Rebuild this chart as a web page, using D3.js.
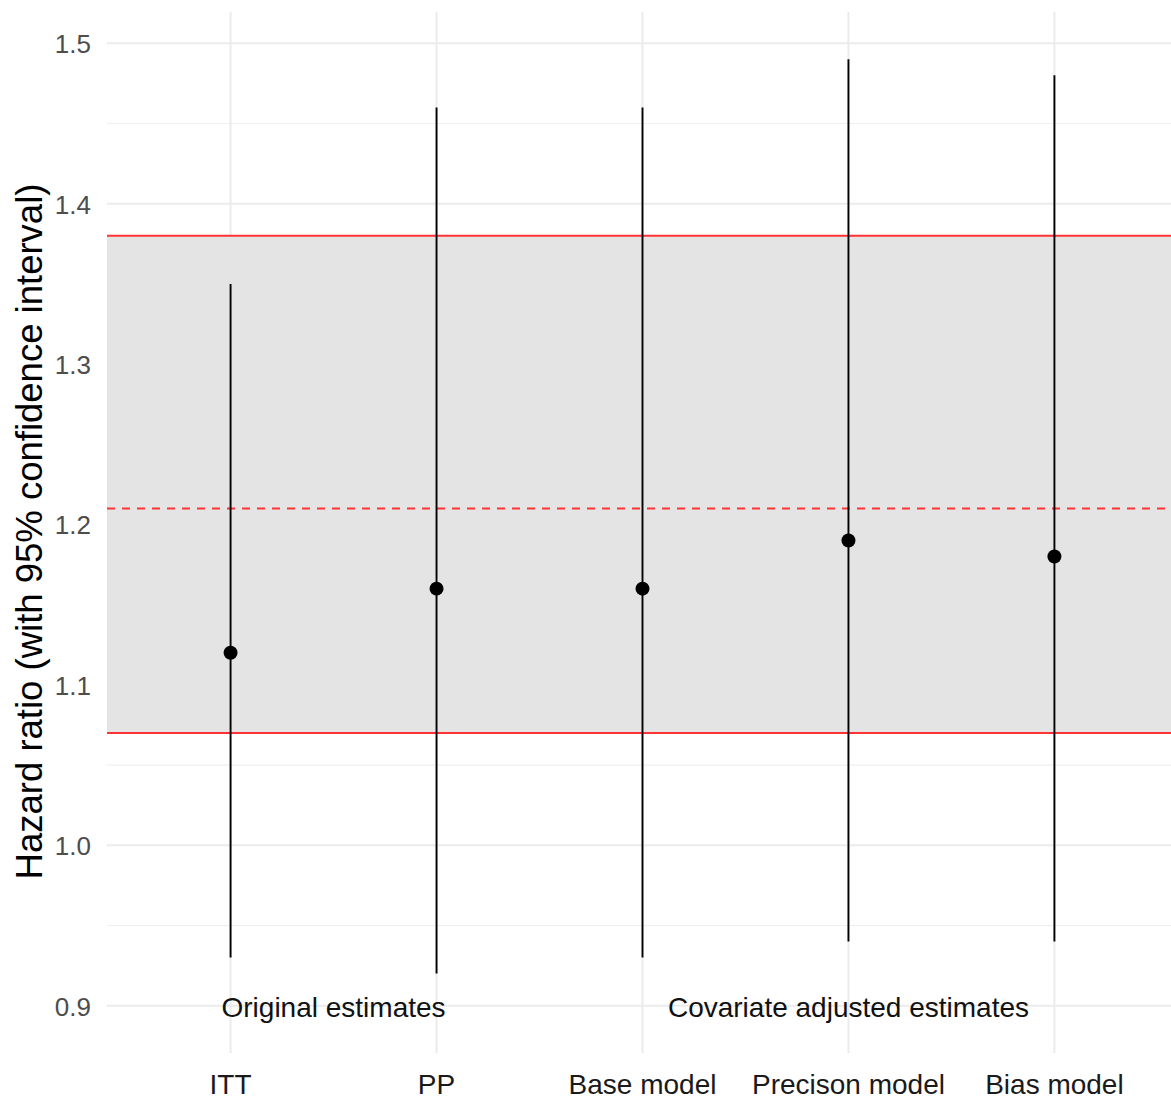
<!DOCTYPE html>
<html>
<head>
<meta charset="utf-8">
<script src="https://cdn.jsdelivr.net/npm/d3@7"></script>
<style>
  html, body { margin: 0; padding: 0; background: #fff; }
  svg { display: block; font-family: "Liberation Sans", Arial, sans-serif; }
</style>
</head>
<body>
<svg id="chart" width="1171" height="1099"></svg>
<script>
// ---- data ----
const categories = ["ITT", "PP", "Base model", "Precison model", "Bias model"];
const estimates  = [1.12, 1.16, 1.16, 1.19, 1.18];
const lowerCI    = [0.93, 0.92, 0.93, 0.94, 0.94];
const upperCI    = [1.35, 1.46, 1.46, 1.49, 1.48];
const yTicks     = [0.9, 1.0, 1.1, 1.2, 1.3, 1.4, 1.5];
const yMinor     = [0.95, 1.05, 1.15, 1.25, 1.35, 1.45];
const bandLow    = 1.07;
const bandHigh   = 1.38;
const refLine    = 1.21;
const groupLabels = [
  { text: "Original estimates", from: "ITT", to: "PP", value: 0.9 },
  { text: "Covariate adjusted estimates", from: "Precison model", to: "Precison model", value: 0.9 }
];
const yTitle = "Hazard ratio (with 95% confidence interval)";

// ---- layout ----
const svg = d3.select("#chart");
const panel = { left: 107, right: 1178, top: 12, bottom: 1053 };

const x = d3.scalePoint().domain(categories).range([panel.left, panel.right]).padding(0.6);
const y = d3.scaleLinear().domain([0.8705, 1.5195]).range([panel.bottom, panel.top]);

const g = svg.append("g");

// grid
g.selectAll(".minor").data(yMinor).enter().append("line")
  .attr("x1", panel.left).attr("x2", panel.right)
  .attr("y1", d => y(d)).attr("y2", d => y(d))
  .attr("stroke", "#efefef").attr("stroke-width", 1.2);
g.selectAll(".major").data(yTicks).enter().append("line")
  .attr("x1", panel.left).attr("x2", panel.right)
  .attr("y1", d => y(d)).attr("y2", d => y(d))
  .attr("stroke", "#ebebeb").attr("stroke-width", 2);
g.selectAll(".vgrid").data(categories).enter().append("line")
  .attr("x1", d => x(d)).attr("x2", d => x(d))
  .attr("y1", panel.top).attr("y2", panel.bottom)
  .attr("stroke", "#ebebeb").attr("stroke-width", 2);

// band
g.append("rect")
  .attr("x", panel.left).attr("width", panel.right - panel.left)
  .attr("y", y(bandHigh)).attr("height", y(bandLow) - y(bandHigh))
  .attr("fill", "#e4e4e4");
g.selectAll(".bandline").data([bandLow, bandHigh]).enter().append("line")
  .attr("x1", panel.left).attr("x2", panel.right)
  .attr("y1", d => y(d)).attr("y2", d => y(d))
  .attr("stroke", "#ff3333").attr("stroke-width", 2);
g.append("line")
  .attr("x1", panel.left).attr("x2", panel.right)
  .attr("y1", y(refLine)).attr("y2", y(refLine))
  .attr("stroke", "#ff3333").attr("stroke-width", 2)
  .attr("stroke-dasharray", "8,7");

// error bars
g.selectAll(".err").data(categories).enter().append("line")
  .attr("x1", d => x(d)).attr("x2", d => x(d))
  .attr("y1", (d, i) => y(lowerCI[i])).attr("y2", (d, i) => y(upperCI[i]))
  .attr("stroke", "#000").attr("stroke-width", 1.9);
// points
g.selectAll(".pt").data(categories).enter().append("circle")
  .attr("cx", d => x(d)).attr("cy", (d, i) => y(estimates[i]))
  .attr("r", 7).attr("fill", "#000");

// group labels
g.selectAll(".grp").data(groupLabels).enter().append("text")
  .attr("x", d => (x(d.from) + x(d.to)) / 2)
  .attr("y", d => y(d.value))
  .attr("dy", "0.42em")
  .attr("text-anchor", "middle")
  .attr("font-size", 28)
  .attr("fill", "#111")
  .text(d => d.text);

// y tick labels
g.selectAll(".ytl").data(yTicks).enter().append("text")
  .attr("x", 91).attr("y", d => y(d)).attr("dy", "0.38em")
  .attr("text-anchor", "end").attr("font-size", 26).attr("fill", "#4d4d4d")
  .text(d => d3.format(".1f")(d));

// x tick labels
g.selectAll(".xtl").data(categories).enter().append("text")
  .attr("x", d => x(d)).attr("y", 1083).attr("dy", "0.38em")
  .attr("text-anchor", "middle").attr("font-size", 28).attr("fill", "#1a1a1a")
  .text(d => d);

// y title
svg.append("text")
  .attr("transform", `translate(42,${(185 + 878) / 2}) rotate(-90)`)
  .attr("text-anchor", "middle")
  .attr("font-size", 36.5).attr("fill", "#000")
  .text(yTitle);
</script>
</body>
</html>
